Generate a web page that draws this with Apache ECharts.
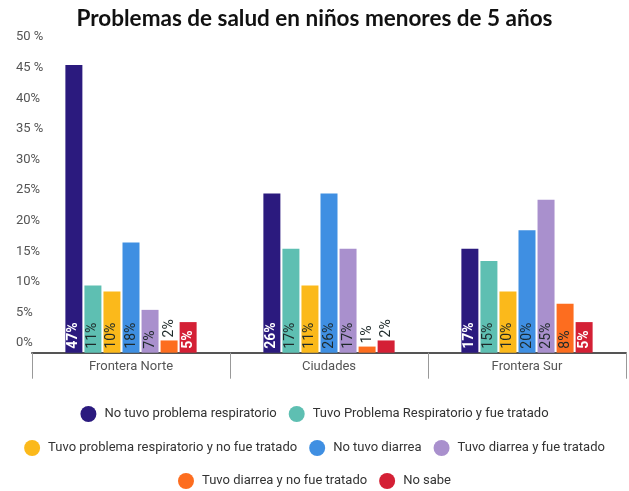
<!DOCTYPE html>
<html>
<head>
<meta charset="utf-8">
<script src="https://cdn.jsdelivr.net/npm/echarts@6/dist/echarts.min.js"></script>
<style>
  html, body { margin: 0; padding: 0; background: #fff; }
  #chart { width: 629px; height: 491px; }
</style>
</head>
<body>
<div id="chart"></div>
<script>
// datos
const categories = ['Frontera Norte', 'Ciudades', 'Frontera Sur']
const seriesNames = [
  'No tuvo problema respiratorio',
  'Tuvo Problema Respiratorio y fue tratado',
  'Tuvo problema respiratorio y no fue tratado',
  'No tuvo diarrea',
  'Tuvo diarrea y fue tratado',
  'Tuvo diarrea y no fue tratado',
  'No sabe'
]
const noRespiratorio = [47, 26, 17]
const respTratado = [11, 17, 15]
const respNoTratado = [10, 11, 10]
const noDiarrea = [18, 26, 20]
const diarreaTratado = [7, 17, 25]
const diarreaNoTratado = [2, 1, 8]
const noSabe = [5, 2, 5]
const yTickLabels = ['0%', '5%', '10%', '15%', '20%', '25%', '30%', '35 %', '40%', '45 %', '50 %']

const colors = ['#2b1a7e', '#5ebfb2', '#fbb91b', '#3f8fe2', '#a990cd', '#fd6d1f', '#d42035']
const labelColors = ['#fff', '#1f2a2a', '#1f2a2a', '#1f2a2a', '#1f2a2a', '#1f2a2a', '#fff']
const allValues = [noRespiratorio, respTratado, respNoTratado, noDiarrea, diarreaTratado, diarreaNoTratado, noSabe]

const myChart = echarts.init(document.getElementById('chart'))

const series = allValues.map((vals, i) => ({
  name: seriesNames[i],
  type: 'bar',
  barWidth: 17,
  barGap: '12%',
  itemStyle: { color: colors[i] },
  emphasis: { disabled: true },
  label: {
    show: true,
    rotate: 90,
    position: 'insideBottom',
    align: 'left',
    verticalAlign: 'middle',
    distance: 4,
    fontFamily: 'Roboto',
    fontSize: 14,
    fontWeight: labelColors[i] === '#fff' ? 'bold' : 'normal',
    color: labelColors[i],
    formatter: '{c}%'
  },
  // los valores pequeños llevan la etiqueta encima de la barra
  data: vals.map(v => v <= 2
    ? { value: v, label: { position: 'top', distance: 3, color: '#1f2a2a', fontWeight: 'normal' } }
    : v)
}))

const legendRow = (names, top) => ({
  data: names,
  left: 'center',
  top: top,
  icon: 'circle',
  itemWidth: 16,
  itemHeight: 16,
  itemGap: 12,
  selectedMode: false,
  textStyle: { fontFamily: 'Roboto', fontSize: 13, color: '#333', padding: [0, 0, 0, 3] }
})

const option = {
  animation: false,
  title: {
    text: 'Problemas de salud en niños menores de 5 años',
    left: 'center',
    top: 2,
    textStyle: { fontFamily: 'Lato', fontWeight: 'bold', fontSize: 22.5, color: '#111' }
  },
  legend: [
    legendRow(seriesNames.slice(0, 2), 401),
    legendRow(seriesNames.slice(2, 5), 435),
    legendRow(seriesNames.slice(5, 7), 468)
  ],
  grid: { left: 32, right: 3, top: 46.7, bottom: 138.3 },
  xAxis: {
    type: 'category',
    data: categories,
    axisLine: { lineStyle: { color: '#555', width: 2 } },
    axisTick: { show: true, length: 26, lineStyle: { color: '#999' } },
    axisLabel: { fontFamily: 'Roboto', fontSize: 13, color: '#555', margin: 8 }
  },
  yAxis: {
    type: 'value',
    min: 0,
    max: 50,
    interval: 5,
    splitLine: { show: false },
    axisLine: { show: false },
    axisTick: { show: false },
    axisLabel: {
      align: 'left',
      verticalAlign: 'bottom',
      margin: 16,
      padding: [0, 0, 3, 0],
      fontFamily: 'Roboto',
      fontSize: 13,
      color: '#555',
      formatter: v => yTickLabels[Math.round(v / 5)]
    }
  },
  series: series
}

myChart.setOption(option)
</script>
</body>
</html>
